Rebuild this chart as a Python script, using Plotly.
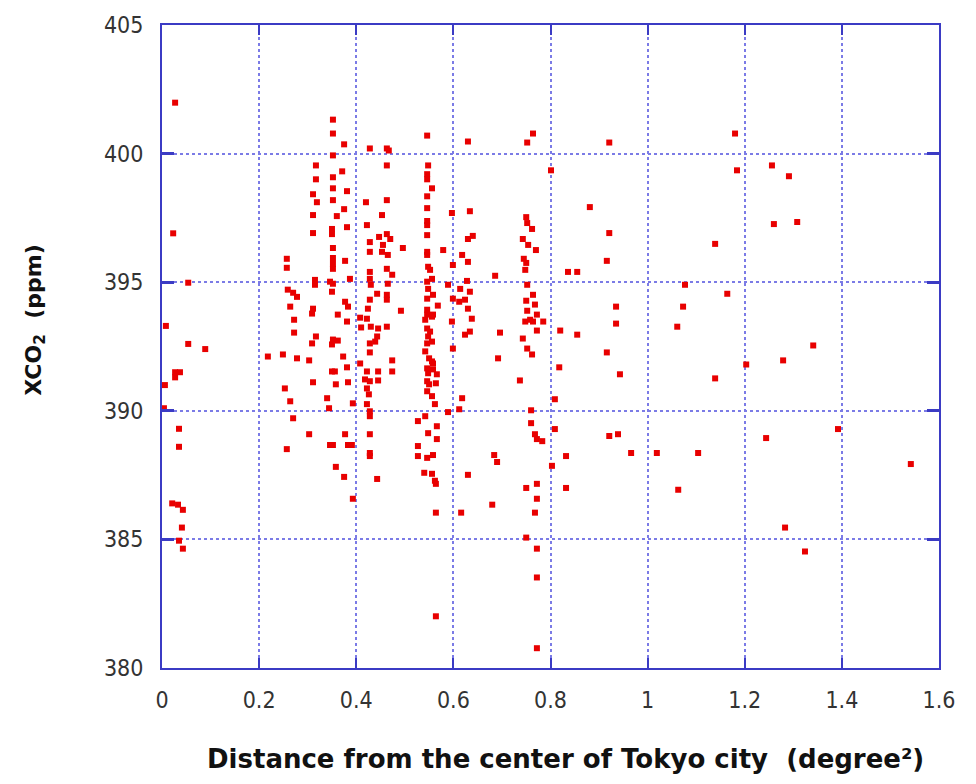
import plotly.graph_objects as go

# ---- data: distance from the center of Tokyo (degree^2) and XCO2 (ppm) ----
near_x = [0.027, 0.023, 0.054, 0.008, 0.054, 0.089, 0.027, 0.037, 0.027, 0.006,
          0.004, 0.035, 0.035, 0.021, 0.033, 0.043, 0.041, 0.035, 0.043]
near_y = [401.98, 396.9, 394.98, 393.3, 392.6, 392.4, 391.5, 391.5, 391.3, 391.0,
          390.1, 389.3, 388.6, 386.4, 386.35, 386.15, 385.46, 384.95, 384.64]

b_x = [0.218, 0.249, 0.253, 0.264, 0.270, 0.257, 0.278, 0.303, 0.311, 0.303,
       0.264, 0.272, 0.272, 0.311, 0.309, 0.317, 0.309, 0.257, 0.257, 0.259,
       0.270, 0.278, 0.317, 0.317, 0.311, 0.319, 0.311, 0.311, 0.315, 0.315]
b_y = [392.11, 392.19, 390.87, 390.37, 389.71, 388.51, 392.04, 391.96, 391.11, 389.09,
       394.05, 393.54, 393.04, 393.97, 393.78, 392.89, 392.62, 395.91, 395.56, 394.71,
       394.59, 394.43, 399.54, 399.00, 398.42, 398.11, 397.61, 396.91, 395.09, 394.90]

c_x = [0.352, 0.352, 0.375, 0.352, 0.371, 0.352, 0.352, 0.381, 0.352, 0.375,
       0.360, 0.381, 0.350, 0.350, 0.352, 0.377, 0.352, 0.352, 0.352, 0.387,
       0.346, 0.352, 0.350, 0.377, 0.383, 0.362, 0.381, 0.352, 0.362, 0.350,
       0.373, 0.350, 0.356, 0.381, 0.358, 0.383, 0.340, 0.344, 0.346, 0.352,
       0.377, 0.383, 0.391, 0.358, 0.375, 0.393, 0.393]
c_y = [401.32, 400.78, 400.36, 399.93, 399.31, 399.08, 398.65, 398.54, 398.19, 397.84,
       397.57, 397.14, 397.07, 396.87, 396.33, 395.83, 395.94, 395.71, 395.52, 395.13,
       395.02, 394.94, 394.63, 394.24, 394.05, 393.74, 393.47, 392.77, 392.73, 392.58,
       392.11, 391.53, 391.53, 391.69, 391.03, 391.11, 390.49, 390.10, 388.67, 388.67,
       389.09, 388.67, 388.67, 387.82, 387.43, 386.58, 390.29]

d_x = [0.428, 0.463, 0.467, 0.463, 0.463, 0.420, 0.453, 0.422, 0.463, 0.447,
       0.470, 0.428, 0.455, 0.496, 0.428, 0.453, 0.465, 0.463, 0.428, 0.474,
       0.428, 0.465, 0.430, 0.443, 0.463, 0.428, 0.463, 0.424, 0.492, 0.408,
       0.422, 0.430, 0.463, 0.410, 0.445, 0.443, 0.439, 0.428, 0.428, 0.474,
       0.408, 0.422, 0.445, 0.474, 0.418, 0.445, 0.428, 0.422, 0.426, 0.422,
       0.428, 0.428, 0.428, 0.428, 0.428, 0.443]
d_y = [400.20, 400.20, 400.12, 399.54, 398.19, 398.11, 397.61, 397.22, 396.87, 396.76,
       396.68, 396.56, 396.45, 396.33, 396.18, 396.18, 396.06, 395.52, 395.40, 395.29,
       395.13, 394.94, 394.90, 394.55, 394.51, 394.32, 394.32, 393.97, 393.89, 393.62,
       393.58, 393.27, 393.27, 393.24, 393.20, 392.89, 392.69, 392.62, 392.27, 391.96,
       391.84, 391.53, 391.53, 391.53, 391.22, 391.18, 391.15, 390.87, 390.64, 390.26,
       389.98, 389.79, 389.09, 388.36, 388.24, 387.35]

e_x = [0.546, 0.548, 0.546, 0.546, 0.556, 0.546, 0.546, 0.546, 0.546, 0.546,
       0.546, 0.546, 0.548, 0.552, 0.556, 0.546, 0.548, 0.558, 0.546, 0.568,
       0.546, 0.546, 0.556, 0.542, 0.546, 0.552, 0.548, 0.556, 0.546, 0.542,
       0.550, 0.556, 0.546, 0.548, 0.558, 0.566, 0.546, 0.550, 0.564, 0.546,
       0.556, 0.562, 0.542, 0.527, 0.566, 0.548, 0.566, 0.527, 0.558, 0.527,
       0.546, 0.540, 0.556, 0.562, 0.564, 0.564, 0.564, 0.558, 0.558]
e_y = [400.70, 399.54, 399.20, 399.00, 398.65, 398.34, 397.88, 397.38, 397.22, 396.83,
       396.18, 396.06, 395.60, 395.48, 395.13, 395.02, 394.74, 394.51, 394.36, 394.09,
       393.93, 393.74, 393.66, 393.54, 393.20, 393.08, 392.89, 392.69, 392.62, 392.31,
       392.04, 391.92, 391.65, 391.46, 391.61, 391.42, 391.15, 391.03, 391.07, 390.76,
       390.57, 390.26, 389.79, 389.60, 389.40, 389.13, 388.90, 388.63, 388.28, 388.24,
       388.17, 387.59, 387.55, 387.28, 387.16, 386.04, 382.01, 391.84, 393.74]

f_x = [0.630, 0.597, 0.634, 0.640, 0.630, 0.579, 0.618, 0.630, 0.599, 0.686,
       0.628, 0.589, 0.614, 0.634, 0.599, 0.624, 0.612, 0.630, 0.638, 0.597,
       0.634, 0.624, 0.696, 0.599, 0.692, 0.618, 0.612, 0.589, 0.684, 0.690,
       0.630, 0.680, 0.616]
f_y = [400.47, 397.69, 397.76, 396.80, 396.68, 396.25, 396.06, 395.79, 395.67, 395.25,
       395.05, 394.90, 394.74, 394.63, 394.36, 394.32, 394.24, 393.97, 393.58, 393.47,
       393.08, 392.96, 393.04, 392.42, 392.04, 390.49, 390.06, 389.95, 388.28, 388.01,
       387.51, 386.35, 386.04]

g_x = [0.764, 0.752, 0.801, 0.750, 0.752, 0.762, 0.743, 0.754, 0.770, 0.745,
       0.750, 0.748, 0.836, 0.855, 0.752, 0.764, 0.750, 0.768, 0.752, 0.772,
       0.758, 0.748, 0.764, 0.785, 0.772, 0.820, 0.855, 0.743, 0.752, 0.762,
       0.818, 0.737, 0.809, 0.760, 0.760, 0.809, 0.768, 0.772, 0.783, 0.832,
       0.803, 0.772, 0.750, 0.832, 0.772, 0.768, 0.750, 0.772, 0.772, 0.772]
g_y = [400.78, 400.43, 399.35, 397.53, 397.30, 397.07, 396.68, 396.45, 396.25, 395.91,
       395.75, 395.48, 395.40, 395.40, 394.90, 394.51, 394.28, 394.13, 393.89, 393.74,
       393.54, 393.47, 393.47, 393.47, 393.12, 393.12, 392.96, 392.81, 392.42, 392.19,
       391.69, 391.18, 390.45, 390.02, 389.52, 389.29, 389.09, 388.90, 388.82, 388.24,
       387.86, 387.16, 387.00, 387.00, 386.58, 386.04, 385.07, 384.64, 383.52, 380.77]

far_x = [0.921, 0.881, 0.921, 0.916, 0.935, 0.935, 0.916, 0.943, 0.921, 0.939,
         0.966, 1.019, 1.104, 1.063, 1.077, 1.164, 1.073, 1.061, 1.139, 1.203,
         1.139, 1.180, 1.184, 1.256, 1.291, 1.260, 1.308, 1.279, 1.341, 1.392,
         1.244, 1.283, 1.324, 1.542]
far_y = [400.43, 397.92, 396.91, 395.83, 394.05, 393.39, 392.27, 391.42, 389.02, 389.09,
         388.36, 388.36, 388.36, 386.93, 394.90, 394.55, 394.05, 393.27, 396.49, 391.80,
         391.26, 400.78, 399.35, 399.54, 399.12, 397.26, 397.34, 391.96, 392.54, 389.29,
         388.94, 385.46, 384.53, 387.93]

x_ticks = [0, 0.2, 0.4, 0.6, 0.8, 1.0, 1.2, 1.4, 1.6]
x_tick_labels = ["0", "0.2", "0.4", "0.6", "0.8", "1", "1.2", "1.4", "1.6"]
y_ticks = [380, 385, 390, 395, 400, 405]
x_title = "Distance from the center of Tokyo city  (degree²)"
y_title = "XCO<sub>2</sub>  (ppm)"

distance = near_x + b_x + c_x + d_x + e_x + f_x + g_x + far_x
xco2 = near_y + b_y + c_y + d_y + e_y + f_y + g_y + far_y

AXIS = "#3b3bc4"
GRID = "#7b7be6"
TICKFONT = dict(family="Liberation Sans Narrow, DejaVu Sans Condensed, sans-serif",
                size=23, color="#333333")
TITLEFONT = dict(family="DejaVu Sans, sans-serif", color="#111111")

fig = go.Figure(go.Scatter(
    x=distance, y=xco2, mode="markers",
    marker=dict(symbol="square", size=6, color="#e80000",
                line=dict(width=0)),
    showlegend=False,
))

fig.update_xaxes(
    range=[0, 1.6], tickmode="array", tickvals=x_ticks, ticktext=x_tick_labels,
    showline=True, linecolor=AXIS, linewidth=2, mirror="ticks",
    ticks="inside", ticklen=10, tickwidth=2, tickcolor=AXIS,
    showgrid=True, gridcolor=GRID, gridwidth=1.5, griddash="dot",
    zeroline=False, tickfont=TICKFONT, ticklabelstandoff=10,
)
fig.update_yaxes(
    range=[380, 405], tickmode="array", tickvals=y_ticks,
    showline=True, linecolor=AXIS, linewidth=2, mirror="ticks",
    ticks="inside", ticklen=12, tickwidth=3, tickcolor=AXIS,
    showgrid=True, gridcolor=GRID, gridwidth=1.5, griddash="dot",
    zeroline=False, tickfont=TICKFONT, ticklabelstandoff=12,
)

fig.add_annotation(
    text="<b>" + x_title + "</b>", xref="paper", yref="paper",
    x=0.519, y=-0.142, xanchor="center", yanchor="middle", showarrow=False,
    font=dict(size=26, **TITLEFONT),
)
fig.add_annotation(
    text="<b>" + y_title + "</b>", xref="paper", yref="paper",
    x=-0.163, y=0.542, xanchor="center", yanchor="middle", showarrow=False,
    textangle=-90, font=dict(size=22, **TITLEFONT),
)

fig.update_layout(
    width=976, height=784,
    margin=dict(l=162, r=37, t=22, b=116),
    paper_bgcolor="white", plot_bgcolor="white",
)

fig.write_html("out.html")
